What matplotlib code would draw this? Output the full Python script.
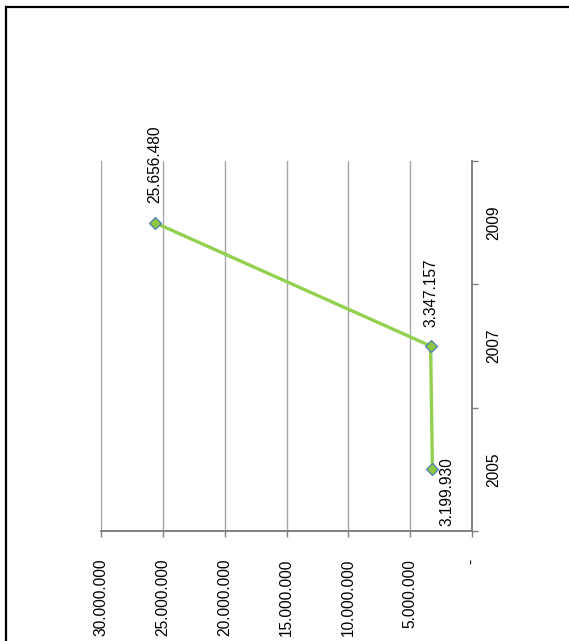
import matplotlib
matplotlib.use("Agg")
import matplotlib.pyplot as plt
from matplotlib.patches import Rectangle
from matplotlib import font_manager

years = ["2005", "2007", "2009"]
values = [3199930, 3347157, 25656480]
value_labels = ["3.199.930", "3.347.157", "25.656.480"]
value_ticks = [30000000, 25000000, 20000000, 15000000, 10000000, 5000000, 0]
value_tick_labels = ["30.000.000", "25.000.000", "20.000.000", "15.000.000",
                     "10.000.000", "5.000.000", "-"]

names = {f.name for f in font_manager.fontManager.ttflist}
fam = ["Liberation Sans Narrow", "Liberation Sans", "DejaVu Sans"]
fam = [f for f in fam if f in names] or ["DejaVu Sans"]
plt.rcParams['font.family'] = fam
fs = 13 if fam[0] == "Liberation Sans Narrow" else 11.2

W, H = 569, 641
fig = plt.figure(figsize=(W / 100, H / 100), dpi=100)

# outer border
fig.patches.append(Rectangle((6 / W, -0.1), 1.2, 1.1 - 7 / H,
                             transform=fig.transFigure, fill=False,
                             edgecolor="black", linewidth=1.6))

left, right, top, bottom = 101, 472, 161, 531
ax = fig.add_axes([left / W, 1 - bottom / H, (right - left) / W, (bottom - top) / H])

pos = list(range(len(years)))
ax.set_ylim(-0.5, len(years) - 0.5)
ax.set_xlim(30000000, 0)

grid_c = "#A6A6A6"
axis_c = "#808080"
for v in value_ticks[:-1]:
    ax.axvline(v, color=grid_c, linewidth=1.0, zorder=1)

ax.plot(values, pos, color="#92D050", linewidth=2.4, zorder=3,
        marker="D", markersize=6.6, markerfacecolor="#8DC63F",
        markeredgecolor="#4F81BD", markeredgewidth=0.9)

for s in ["top", "left"]:
    ax.spines[s].set_visible(False)
ax.spines["bottom"].set_color(axis_c)
ax.spines["bottom"].set_linewidth(1.4)
ax.spines["right"].set_color(axis_c)
ax.spines["right"].set_linewidth(1.4)

ax.set_xticks(value_ticks)
ax.set_xticklabels(value_tick_labels, rotation=90, va="top", ha="center", fontsize=fs)
ax.tick_params(axis="x", direction="out", length=4, width=1.0, color=axis_c, pad=16)

ax.yaxis.tick_right()
ax.set_yticks([p - 0.5 for p in pos] + [len(years) - 0.5])
ax.set_yticklabels([])
ax.tick_params(axis="y", which="major", direction="out", length=4, width=1.0, color=axis_c)
ax.set_yticks(pos, minor=True)
ax.set_yticklabels(years, minor=True, rotation=90, va="center", ha="left", fontsize=fs)
ax.tick_params(axis="y", which="minor", length=0, pad=10)

# data labels
ax.annotate(value_labels[2], (values[2], pos[2]), xytext=(0, 14), textcoords="offset points",
            rotation=90, ha="center", va="bottom", fontsize=fs, zorder=4)
ax.annotate(value_labels[1], (values[1], pos[1]), xytext=(0, 14), textcoords="offset points",
            rotation=90, ha="center", va="bottom", fontsize=fs, zorder=4)
ax.annotate(value_labels[0], (values[0], pos[0]), xytext=(5, -16), textcoords="offset points",
            rotation=90, ha="left", va="center", fontsize=fs, zorder=4)

fig.savefig("out.png", dpi=100)
